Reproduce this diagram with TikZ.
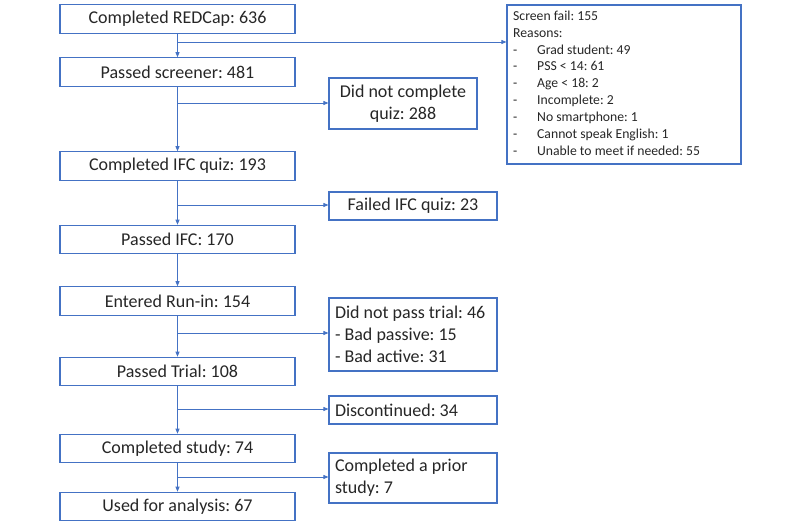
\documentclass[tikz,border=0pt]{standalone}
\usepackage{fontspec}
\setmainfont{Carlito}
\usetikzlibrary{arrows.meta,calc}
\definecolor{lineblue}{HTML}{4472C4}
\begin{document}
\begin{tikzpicture}[x=1pt,y=-1pt,
  box/.style={draw=lineblue,line width=1.1pt,rectangle,inner sep=0pt,font=\frenchspacing\fontsize{18}{22}\selectfont,text=black!85},
  lbox/.style={box,minimum width=235pt,minimum height=28.5pt},
  rbox/.style={box,minimum width=168pt},
  arr/.style={draw=lineblue,line width=0.8pt,-{Triangle[length=5pt,width=4pt]}},
  ln/.style={draw=lineblue,line width=0.8pt}]
\useasboundingbox (0,0) rectangle (800,525);
% left column
\node[lbox] (b1) at (177.5,19) {Completed REDCap: 636};
\node[lbox] (b2) at (177.5,72) {Passed screener: 481};
\node[lbox] (b3) at (177.5,166) {Completed IFC quiz: 193};
\node[lbox] (b4) at (177.5,239.5) {Passed IFC: 170};
\node[lbox] (b5) at (177.5,301) {Entered Run-in: 154};
\node[lbox] (b6) at (177.5,371.5) {Passed Trial: 108};
\node[lbox] (b7) at (177.5,448.5) {Completed study: 74};
\node[lbox] (b8) at (177.5,506.5) {Used for analysis: 67};
% right column
\node[box,minimum width=234pt,minimum height=159pt] (sf) at (624,84.5) {};
\node[anchor=north west,inner sep=0pt,align=flush left,font=\frenchspacing\fontsize{13.7}{16.9}\selectfont,text=black!85] (sft) at (513,10.5)
 {Screen fail: 155\\Reasons:\\
  \makebox[24pt][l]{-}Grad student: 49\\
  \makebox[24pt][l]{-}PSS < 14: 61\\
  \makebox[24pt][l]{-}Age < 18: 2\\
  \makebox[24pt][l]{-}Incomplete: 2\\
  \makebox[24pt][l]{-}No smartphone: 1\\
  \makebox[24pt][l]{-}Cannot speak English: 1\\
  \makebox[24pt][l]{-}Unable to meet if needed: 55};
\node[box,minimum width=148pt,minimum height=51pt,align=center] (dnc) at (403,103.5) {Did not complete\\quiz: 288};
\node[rbox,minimum height=28pt] (fifc) at (413,206) {Failed IFC quiz: 23};
\node[rbox,minimum height=73pt,align=flush left,text width=156pt] (dnpt) at (413,334.5) {Did not pass trial: 46\\- Bad passive: 15\\- Bad active: 31};
\node[rbox,minimum height=28pt,align=flush left,text width=156pt] (disc) at (413,410) {Discontinued: 34};
\node[rbox,minimum height=50pt,align=flush left,text width=156pt] (prior) at (413,478) {Completed a prior\\study: 7};
% junctions
\coordinate (j1) at (177.5,42);
\coordinate (j2) at (177.5,103);
\coordinate (j3) at (177.5,205);
\coordinate (j5) at (177.5,333);
\coordinate (j6) at (177.5,409);
\coordinate (j7) at (177.5,477);
% vertical arrows
\draw[arr] (b1) -- (b2);
\draw[arr] (b2) -- (b3);
\draw[arr] (b3) -- (b4);
\draw[arr] (b4) -- (b5);
\draw[arr] (b5) -- (b6);
\draw[arr] (b6) -- (b7);
\draw[arr] (b7) -- (b8);
% side arrows
\draw[arr] (j1) -- (j1 -| sf.west);
\draw[arr] (j2) -- (j2 -| dnc.west);
\draw[arr] (j3) -- (j3 -| fifc.west);
\draw[arr] (j5) -- (j5 -| dnpt.west);
\draw[arr] (j6) -- (j6 -| disc.west);
\draw[arr] (j7) -- (j7 -| prior.west);
\end{tikzpicture}
\end{document}
